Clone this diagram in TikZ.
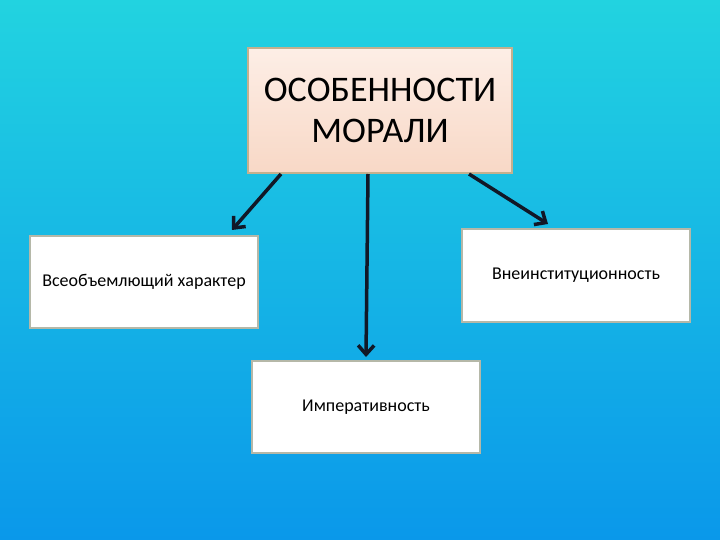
\documentclass[tikz,border=0pt]{standalone}
\usepackage{fontspec}
\setmainfont{Carlito}
\usetikzlibrary{arrows.meta,positioning,calc}
\definecolor{bgtop}{HTML}{22D3E0}
\definecolor{bgbot}{HTML}{0A98EA}
\definecolor{peachtop}{HTML}{FDEEE6}
\definecolor{peachbot}{HTML}{F8D8C6}
\definecolor{tanline}{HTML}{C4B08E}
\definecolor{greyline}{HTML}{B5B8A8}
\definecolor{arrcol}{HTML}{111827}
\tikzset{
  head/.style={draw=tanline,line width=2pt,top color=peachtop,bottom color=peachbot,minimum width=264pt,minimum height=125pt,inner sep=0pt,align=center,font=\fontsize{36}{41}\selectfont},
  box/.style={draw=greyline,line width=2pt,fill=white,minimum width=228pt,minimum height=92pt,inner sep=0pt,font=\fontsize{18}{21}\selectfont},
  arr/.style={-{Straight Barb[length=9pt,width=16pt]},line width=3.5pt,draw=arrcol},
}

\begin{document}
\begin{tikzpicture}[x=1pt,y=-1pt]
 \shade[top color=bgtop,bottom color=bgbot] (0,0) rectangle (720,540);
 \node[head] (top) at (380,110.5) {ОСОБЕННОСТИ\\МОРАЛИ};
 \node[box] (all) at (144,282) {Всеобъемлющий характер};
 \node[box] (inst) at (576,275.5) {Внеинституционность};
 \node[box] (imp) at (366,407) {Императивность};
 % free ends of the side arrows
 \coordinate (endl) at (232,230);
 \coordinate (endr) at (548,224);
 \draw[arr] ([xshift=34pt]top.south west) -- (endl);
 \draw[arr] ([xshift=-12pt]top.south) -- ([yshift=3pt]imp.north);
 \draw[arr] ([xshift=-44pt]top.south east) -- (endr);
\end{tikzpicture}
\end{document}
